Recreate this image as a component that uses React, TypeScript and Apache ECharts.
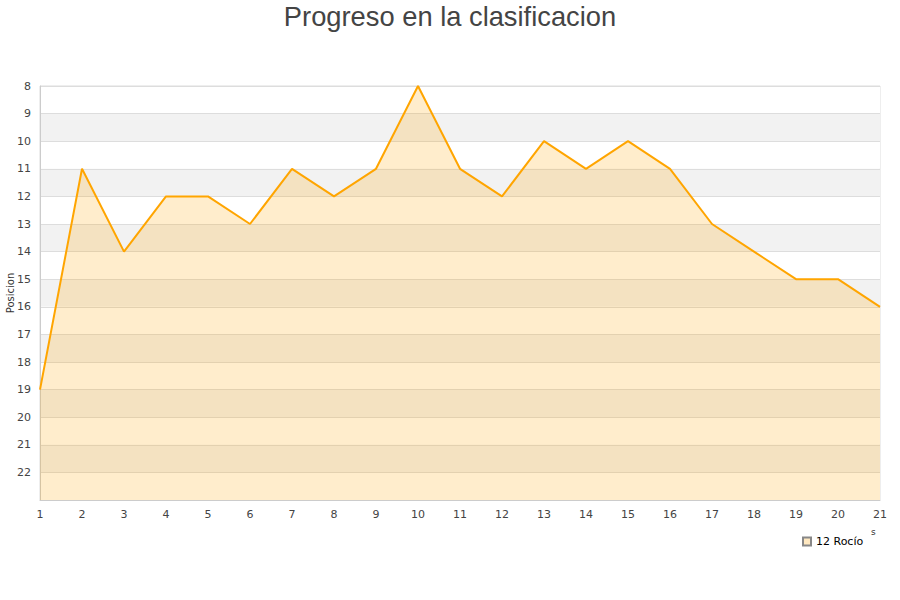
import React, { useEffect, useRef } from "react";
import * as echarts from "echarts";

const jornadas = ["1","2","3","4","5","6","7","8","9","10","11","12","13","14","15","16","17","18","19","20","21"];
const posiciones = [19, 11, 14, 12, 12, 13, 11, 12, 11, 8, 11, 12, 10, 11, 10, 11, 13, 14, 15, 15, 16];
const serieNombre = "12 Rocío";
const titulo = "Progreso en la clasificacion";
const ejeY = "Posicion";

export default function App() {
  const ref = useRef<HTMLDivElement>(null);
  useEffect(() => {
    if (!ref.current) return;
    const chart = echarts.init(ref.current, undefined, { renderer: "svg" });
    chart.setOption({
      animation: false,
      backgroundColor: "#fff",
      title: {
        text: titulo,
        left: "center",
        top: -2,
        textStyle: { fontFamily: "Liberation Sans", fontSize: 27.3, fontWeight: "normal", color: "#444" },
      },
      grid: { left: 40, right: 20, top: 86, bottom: 100, outerBoundsMode: "none", containLabel: false, show: true, borderColor: "#ddd", borderWidth: 1, backgroundColor: "transparent" },
      legend: {
        data: [{ name: serieNombre, icon: "rect" }],
        left: 797,
        top: 531,
        itemWidth: 8,
        itemHeight: 8,
        itemGap: 6,
        textStyle: { fontFamily: "DejaVu Sans", fontSize: 11, color: "#000" },
      },
      xAxis: {
        type: "category",
        data: jornadas,
        boundaryGap: false,
        axisLine: { lineStyle: { color: "#ccc" } },
        axisTick: { show: false },
        splitLine: { show: false },
        axisLabel: { fontFamily: "DejaVu Sans", fontSize: 11, color: "#444", margin: 9 },
      },
      yAxis: {
        type: "value",
        inverse: true,
        min: 8,
        max: 23,
        interval: 1,
        name: ejeY,
        nameLocation: "middle",
        nameGap: 25,
        nameMoveOverlap: false,
        nameTextStyle: { fontFamily: "DejaVu Sans", fontSize: 10, color: "#333" },
        axisLine: { show: true, lineStyle: { color: "#ccc" } },
        axisTick: { show: false },
        splitLine: { show: true, lineStyle: { color: "#ddd" } },
        splitArea: { show: true, areaStyle: { color: ["#ffffff", "#f2f2f2"] } },
        axisLabel: {
          fontFamily: "DejaVu Sans",
          fontSize: 11,
          color: "#444",
          margin: 9,
          formatter: (v: number) => (v === 23 ? "" : String(v)),
        },
      },
      series: [
        {
          name: serieNombre,
          type: "line",
          data: posiciones,
          symbol: "none",
          lineStyle: { color: "#ffa500", width: 2 },
          itemStyle: { color: "#ffe8c0", borderColor: "#888", borderWidth: 1 },
          areaStyle: { color: "rgba(255,165,0,0.2)", opacity: 1, origin: "end" },
        },
      ],
      graphic: [
        { type: "text", left: 871, top: 527, style: { text: "s", fontFamily: "DejaVu Sans", fontSize: 9, fill: "#333" } },
      ],
    });
    return () => chart.dispose();
  }, []);
  return <div ref={ref} style={{ width: 900, height: 600, position: "absolute", left: 0, top: 0 }} />;
}
